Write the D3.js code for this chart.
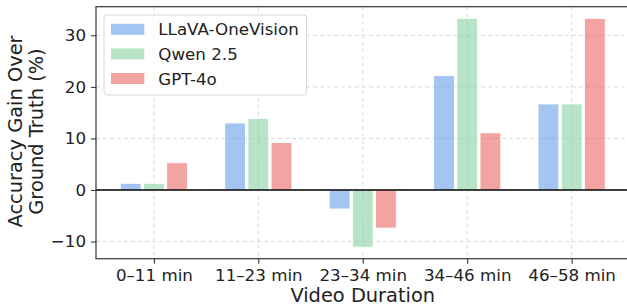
<!DOCTYPE html>
<html>
<head>
<meta charset="utf-8">
<script src="https://cdn.jsdelivr.net/npm/d3@7"></script>
<style>
  body { margin: 0; background: #fff; }
  svg { display: block; font-family: "DejaVu Sans", sans-serif; }
</style>
</head>
<body>
<svg id="chart" width="627" height="308"></svg>
<script>
"use strict";

// chart data
var categories = ["0\u201311 min", "11\u201323 min", "23\u201334 min", "34\u201346 min", "46\u201358 min"];
var seriesNames = ["LLaVA-OneVision", "Qwen 2.5", "GPT-4o"];
var llavaValues = [1.3, 13.0, -3.7, 22.2, 16.7];
var qwenValues = [1.3, 13.9, -11.1, 33.3, 16.7];
var gptValues = [5.3, 9.2, -7.4, 11.1, 33.3];
var yTicks = [-10, 0, 10, 20, 30];
// base colours, drawn at 0.6 opacity
var seriesColors = ["#679de9", "#87d0a0", "#ec6666"];

var series = [llavaValues, qwenValues, gptValues];

var svg = d3.select("#chart");

// plot area
var plotLeft = 96, plotRight = 629.5, plotTop = 6.7, plotBottom = 258.7;

var x = d3.scaleLinear().domain([-0.554, 4.554]).range([plotLeft, plotRight]);
var y = d3.scaleLinear().domain([-13.33, 35.55]).range([plotBottom, plotTop]);

var barOffset = 0.222;   // distance between bars in a group (x units)
var barWidth = 0.2;

// grid
var grid = svg.append("g");
grid.selectAll("line.h").data(yTicks).enter().append("line")
    .attr("x1", plotLeft).attr("x2", plotRight)
    .attr("y1", function(d){ return y(d); })
    .attr("y2", function(d){ return y(d); })
    .attr("stroke", "#d8d8d8").attr("stroke-width", 1)
    .attr("stroke-dasharray", "4,3");
grid.selectAll("line.v").data(categories).enter().append("line")
    .attr("y1", plotTop).attr("y2", plotBottom)
    .attr("x1", function(d, i){ return x(i); })
    .attr("x2", function(d, i){ return x(i); })
    .attr("stroke", "#d8d8d8").attr("stroke-width", 1)
    .attr("stroke-dasharray", "4,3");

// bars
series.forEach(function(vals, s){
    svg.append("g").selectAll("rect").data(vals).enter().append("rect")
        .attr("x", function(d, i){ return x(i + (s - 1) * barOffset - barWidth / 2); })
        .attr("width", x(barWidth) - x(0))
        .attr("y", function(d){ return y(Math.max(0, d)); })
        .attr("height", function(d){ return Math.abs(y(d) - y(0)); })
        .attr("fill", seriesColors[s]).attr("fill-opacity", 0.6)
        .attr("stroke", "#fff").attr("stroke-width", 1);
});

// zero line
svg.append("line")
    .attr("x1", plotLeft).attr("x2", plotRight)
    .attr("y1", y(0)).attr("y2", y(0))
    .attr("stroke", "#000").attr("stroke-width", 1.3);

// axes
var yAxis = d3.axisLeft(y).tickValues(yTicks).tickSize(5).tickPadding(5)
    .tickFormat(function(d){ return d < 0 ? "\u2212" + Math.abs(d) : d; });
var gy = svg.append("g").attr("transform", "translate(" + plotLeft + ",0)").call(yAxis);

var xAxis = d3.axisBottom(x).tickValues(d3.range(categories.length)).tickSize(5)
    .tickFormat(function(d){ return categories[d]; });
var gx = svg.append("g").attr("transform", "translate(0," + plotBottom + ")").call(xAxis);

[gx, gy].forEach(function(g){
    g.select(".domain").remove();
    g.selectAll(".tick line").attr("stroke", "#222").attr("stroke-width", 1);
    g.selectAll(".tick text").attr("fill", "#222")
        .style("font-size", "16.7px").style("font-family", "DejaVu Sans");
});
gx.selectAll(".tick text").attr("y", 22).attr("dy", 0);

// spines
svg.append("rect")
    .attr("x", plotLeft).attr("y", plotTop)
    .attr("width", plotRight - plotLeft).attr("height", plotBottom - plotTop)
    .attr("fill", "none").attr("stroke", "#333").attr("stroke-width", 1.2);

// axis labels
svg.append("text")
    .attr("x", (plotLeft + plotRight) / 2).attr("y", 301.5)
    .attr("text-anchor", "middle")
    .style("font-size", "19.4px").attr("fill", "#222")
    .text("Video Duration");

var yl = svg.append("text")
    .attr("transform", "translate(21.7,131.5) rotate(-90)")
    .attr("text-anchor", "middle")
    .style("font-size", "19.4px").attr("fill", "#222");
yl.append("tspan").attr("x", 0).attr("dy", 0).text("Accuracy Gain Over");
yl.append("tspan").attr("x", 0).attr("dy", 21).text("Ground Truth (%)");

// legend
var legend = svg.append("g").attr("transform", "translate(104,15)");
legend.append("rect")
    .attr("width", 202.5).attr("height", 80).attr("rx", 3)
    .attr("fill", "#fff").attr("fill-opacity", 0.85)
    .attr("stroke", "#d8d8d8").attr("stroke-width", 1);
seriesNames.forEach(function(name, i){
    var row = legend.append("g").attr("transform", "translate(0," + (14.3 + i * 24.6) + ")");
    row.append("rect")
        .attr("x", 7).attr("y", -5.5).attr("width", 33.3).attr("height", 11)
        .attr("fill", seriesColors[i]).attr("fill-opacity", 0.6);
    row.append("text")
        .attr("x", 54.3).attr("y", 0).attr("dy", "0.36em")
        .style("font-size", "16.7px").attr("fill", "#222")
        .text(name);
});
</script>
</body>
</html>
